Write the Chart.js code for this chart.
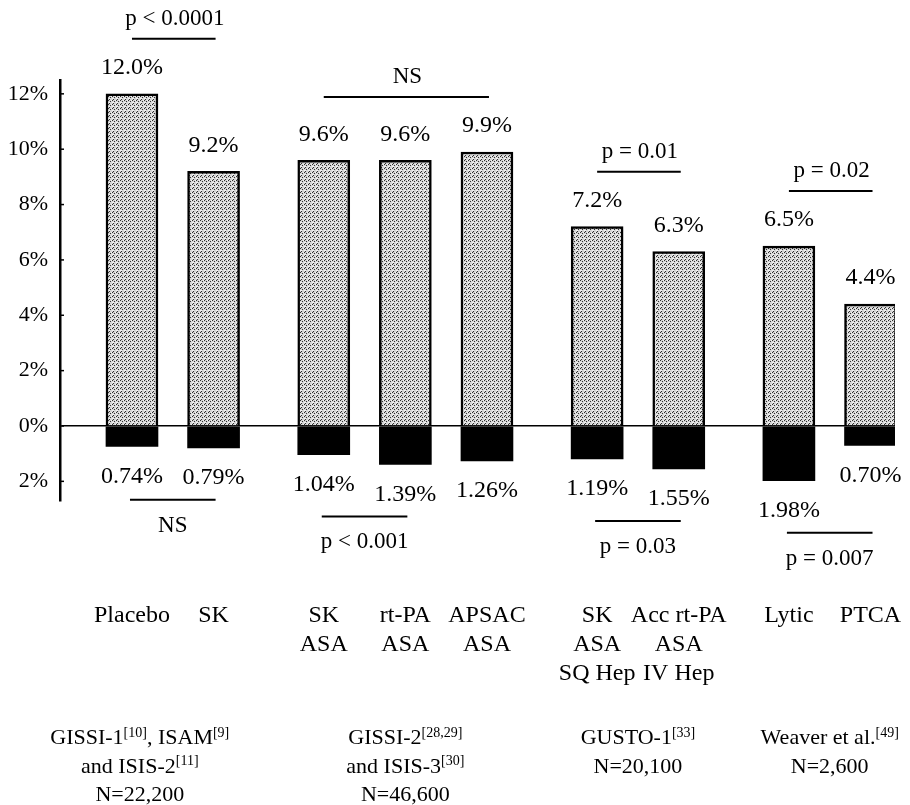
<!DOCTYPE html>
<html>
<head>
<meta charset="utf-8">
<script src="https://cdn.jsdelivr.net/npm/chart.js@4.4.1/dist/chart.umd.min.js"></script>
<style>
  html, body { margin: 0; padding: 0; background: #fff; }
  #wrap { width: 910px; height: 805px; }
</style>
</head>
<body>
<div id="wrap"><canvas id="c" width="910" height="805"></canvas></div>
<script>
// ---- data ----
const categories = [
  ["Placebo"], ["SK"],
  ["SK", "ASA"], ["rt-PA", "ASA"], ["APSAC", "ASA"],
  ["SK", "ASA", "SQ Hep"], ["Acc rt-PA", "ASA", "IV Hep"],
  ["Lytic"], ["PTCA"]
];
const groupOf = [0, 0, 1, 1, 1, 2, 2, 3, 3];
const mortality = [12.0, 9.2, 9.6, 9.6, 9.9, 7.2, 6.3, 6.5, 4.4];
const bleeding = [0.74, 0.79, 1.04, 1.39, 1.26, 1.19, 1.55, 1.98, 0.70];
const mortalityLabels = ["12.0%", "9.2%", "9.6%", "9.6%", "9.9%", "7.2%", "6.3%", "6.5%", "4.4%"];
const bleedingLabels = ["0.74%", "0.79%", "1.04%", "1.39%", "1.26%", "1.19%", "1.55%", "1.98%", "0.70%"];
const yTicks = [-2, 0, 2, 4, 6, 8, 10, 12];
const groupLabels = [
  ["GISSI-1{[10]}, ISAM{[9]}", "and ISIS-2{[11]}", "N=22,200"],
  ["GISSI-2{[28,29]}", "and ISIS-3{[30]}", "N=46,600"],
  ["GUSTO-1{[33]}", "N=20,100"],
  ["Weaver et al.{[49]}", "N=2,600"]
];
const topComparisons = [
  { from: 0, to: 1, text: "p < 0.0001" },
  { from: 2, to: 4, text: "NS" },
  { from: 5, to: 6, text: "p = 0.01" },
  { from: 7, to: 8, text: "p = 0.02" }
];
const bottomComparisons = [
  { from: 0, to: 1, text: "NS" },
  { from: 2, to: 3, text: "p < 0.001" },
  { from: 5, to: 6, text: "p = 0.03" },
  { from: 7, to: 8, text: "p = 0.007" }
];

// ---- layout helpers ----
const GROUP_GAP = 0.35;
const xPos = categories.map((_, i) => i + groupOf[i] * GROUP_GAP);
const FONT = "'Liberation Serif', 'Times New Roman', serif";
const FS = 24;

const canvas = document.getElementById('c');
const ctx0 = canvas.getContext('2d');
function makePattern() {
  const c = document.createElement('canvas');
  c.width = 4; c.height = 4;
  const g = c.getContext('2d');
  g.fillStyle = '#d4d4d4'; g.fillRect(0, 0, 4, 4);
  g.fillStyle = '#f2f2f2'; g.fillRect(3, 0, 1, 1); g.fillRect(1, 2, 1, 1); g.fillRect(0, 2, 1, 1);
  g.fillStyle = '#303030';
  [[0, 0], [2, 1], [1, 3]].forEach(([x, y]) => g.fillRect(x, y, 1, 1));
  return ctx0.createPattern(c, 'repeat');
}
const stipple = makePattern();

function drawRich(ctx, str, cx, cy, size) {
  const parts = [];
  const re = /\{([^}]*)\}|([^{]+)/g;
  let m;
  while ((m = re.exec(str)) !== null) {
    if (m[1] !== undefined) parts.push({ t: m[1], sup: true });
    else parts.push({ t: m[2], sup: false });
  }
  const supSize = Math.round(size * 0.65);
  let total = 0;
  parts.forEach(p => {
    ctx.font = (p.sup ? supSize : size) + 'px ' + FONT;
    p.w = ctx.measureText(p.t).width;
    total += p.w;
  });
  let x = cx - total / 2;
  ctx.textAlign = 'left';
  ctx.textBaseline = 'alphabetic';
  const base = cy + size * 0.33;
  parts.forEach(p => {
    ctx.font = (p.sup ? supSize : size) + 'px ' + FONT;
    ctx.fillText(p.t, x, p.sup ? base - size * 0.34 : base);
    x += p.w;
  });
}

const annotate = {
  id: 'annotate',
  afterDatasetsDraw(chart) {
    const ctx = chart.ctx;
    const xs = chart.scales.x, ys = chart.scales.y;
    ctx.save();
    ctx.fillStyle = '#000';
    ctx.strokeStyle = '#000';
    // y tick marks (inside)
    ctx.lineWidth = 1.5;
    yTicks.forEach(v => {
      const py = ys.getPixelForValue(v);
      ctx.beginPath();
      ctx.moveTo(xs.left, py);
      ctx.lineTo(xs.left + 4, py);
      ctx.stroke();
    });
    // value labels
    ctx.font = FS + 'px ' + FONT;
    ctx.textAlign = 'center';
    ctx.textBaseline = 'middle';
    mortality.forEach((v, i) => {
      const px = xs.getPixelForValue(xPos[i]);
      ctx.fillText(mortalityLabels[i], px, ys.getPixelForValue(v) - 26);
    });
    bleeding.forEach((v, i) => {
      const px = xs.getPixelForValue(xPos[i]);
      ctx.fillText(bleedingLabels[i], px, ys.getPixelForValue(-v) + 30);
    });
    // comparison brackets
    ctx.font = '23px ' + FONT;
    ctx.lineWidth = 2;
    ctx.textBaseline = 'alphabetic';
    topComparisons.forEach(c => {
      let top = Infinity;
      for (let i = c.from; i <= c.to; i++) top = Math.min(top, ys.getPixelForValue(mortality[i]));
      const ly = top - 55;
      const x1 = xs.getPixelForValue(xPos[c.from]);
      const x2 = xs.getPixelForValue(xPos[c.to]);
      ctx.beginPath(); ctx.moveTo(x1, ly); ctx.lineTo(x2 + 2, ly); ctx.stroke();
      ctx.fillText(c.text, (x1 + x2) / 2 + 2, ly - 14);
    });
    bottomComparisons.forEach(c => {
      let bot = -Infinity;
      for (let i = c.from; i <= c.to; i++) bot = Math.max(bot, ys.getPixelForValue(-bleeding[i]));
      const ly = bot + 52;
      const x1 = xs.getPixelForValue(xPos[c.from]);
      const x2 = xs.getPixelForValue(xPos[c.to]);
      ctx.beginPath(); ctx.moveTo(x1 - 2, ly); ctx.lineTo(x2 + 2, ly); ctx.stroke();
      ctx.fillText(c.text, (x1 + x2) / 2, ly + 32);
    });
    // group labels
    const shift = [-33, 0, 0, 0];
    groupLabels.forEach((lines, g) => {
      const idx = groupOf.map((gg, i) => gg === g ? i : -1).filter(i => i >= 0);
      const cx = (xs.getPixelForValue(xPos[idx[0]]) + xs.getPixelForValue(xPos[idx[idx.length - 1]])) / 2 + shift[g];
      lines.forEach((ln, k) => drawRich(ctx, ln, cx, 737 + k * 28.5, 22));
    });
    ctx.restore();
  }
};

new Chart(canvas, {
  type: 'bar',
  data: {
    datasets: [
      {
        label: 'Mortality',
        data: mortality.map((v, i) => ({ x: xPos[i], y: v })),
        backgroundColor: stipple,
        borderColor: '#000',
        borderWidth: 2.5,
        borderSkipped: 'start',
        barThickness: 52,
        stack: 's'
      },
      {
        label: 'Bleeding',
        data: bleeding.map((v, i) => ({ x: xPos[i], y: -v })),
        backgroundColor: '#000',
        borderWidth: 0,
        barThickness: 52,
        stack: 's'
      }
    ]
  },
  options: {
    responsive: false,
    animation: false,
    events: [],
    layout: { padding: { top: 80, right: 15, bottom: 0, left: 0 } },
    plugins: { legend: { display: false }, tooltip: { enabled: false }, title: { display: false } },
    scales: {
      x: {
        type: 'linear',
        offset: false,
        stacked: true,
        min: -0.882,
        max: 9.35,
        grid: { display: false, drawTicks: true, tickLength: 99 },
        border: { display: false },
        afterBuildTicks: (s) => { s.ticks = xPos.map(v => ({ value: v })); },
        afterFit: (s) => { s.height = 304; s.paddingLeft = 0; s.paddingRight = 0; },
        ticks: {
          autoSkip: false,
          maxRotation: 0,
          minRotation: 0,
          padding: 1,
          color: '#000',
          font: { family: FONT, size: FS, lineHeight: 1.21 },
          callback: (v, i) => categories[i]
        }
      },
      y: {
        stacked: true,
        min: -2.71,
        max: 12.5,
        afterBuildTicks: (s) => { s.ticks = yTicks.map(v => ({ value: v })); },
        afterFit: (s) => { s.width = 60; },
        grid: {
          drawTicks: false,
          color: (c) => (c.tick && c.tick.value === 0) ? '#000' : 'rgba(0,0,0,0)',
          lineWidth: 1.5
        },
        border: { display: true, color: '#000', width: 2.5 },
        ticks: {
          padding: 12,
          color: '#000',
          font: { family: FONT, size: 22 },
          callback: (v) => Math.abs(v) + '%'
        }
      }
    }
  },
  plugins: [annotate]
});
</script>
</body>
</html>
